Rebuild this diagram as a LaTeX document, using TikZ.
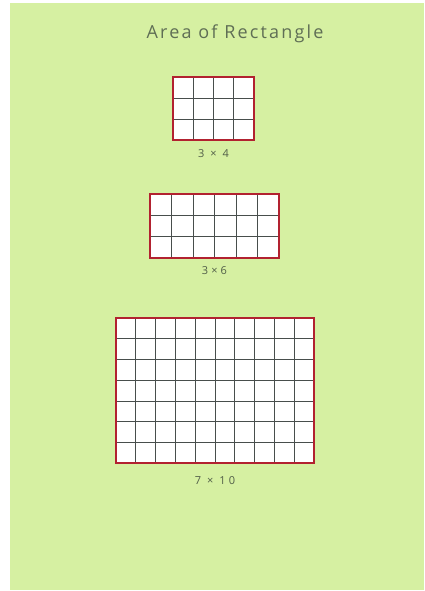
\documentclass[tikz,border=0pt]{standalone}
\usepackage{fontspec}
\usepackage{xcolor}
\usepackage{tikz}
\usetikzlibrary{positioning}
\newfontfamily\handfont[LetterSpace=12]{Open Sans}
\newfontfamily\dimfont[LetterSpace=28]{Open Sans}
\definecolor{paper}{RGB}{214,240,162}
\definecolor{framered}{RGB}{178,34,48}
\definecolor{cellgrey}{RGB}{72,78,76}
\definecolor{ink}{RGB}{95,110,85}

\begin{document}
\begin{tikzpicture}[x=1pt, y=1pt,
  board/.style={rectangle, draw=framered, line width=1.8pt, fill=white, anchor=south west, inner sep=0pt, outer sep=0pt},
  cellline/.style={draw=cellgrey, line width=0.7pt},
  rim/.style={draw=framered, line width=1.8pt},
  dims/.style={font=\dimfont\fontsize{11}{13}\selectfont, text=ink!85!black, inner sep=0pt},
  heading/.style={font=\handfont\fontsize{18}{21}\selectfont, text=ink}]

  \useasboundingbox (0,0) rectangle (424,591);
  \fill[paper] (10,1) rectangle (424,588);

  \node [heading] (title) at (235,557) {Area of Rectangle};

  % 3 rows, 4 columns
  \node [board, minimum width=81pt, minimum height=63pt] (small) at (173,451) {};
  \foreach \c in {1,...,3}
    \draw [cellline] ([xshift=\c*20.25pt]small.south west) -- ([xshift=\c*20.25pt]small.north west);
  \foreach \r in {1,2}
    \draw [cellline] ([yshift=\r*21pt]small.south west) -- ([yshift=\r*21pt]small.south east);
  \draw [rim] (small.south west) rectangle (small.north east);
  \node [dims, below=9pt of small] (smalllbl) {3 × 4};

  % 3 rows, 6 columns
  \node [board, minimum width=129pt, minimum height=64pt] (wide) at (150,333) {};
  \foreach \c in {1,...,5}
    \draw [cellline] ([xshift=\c*21.5pt]wide.south west) -- ([xshift=\c*21.5pt]wide.north west);
  \foreach \r in {1,2}
    \draw [cellline] ([yshift=\r*21.33pt]wide.south west) -- ([yshift=\r*21.33pt]wide.south east);
  \draw [rim] (wide.south west) rectangle (wide.north east);
  \node [dims, below=8pt of wide] (widelbl) {3×6};

  % 7 rows, 10 columns
  \node [board, minimum width=198pt, minimum height=145pt] (big) at (116,128) {};
  \foreach \c in {1,...,9}
    \draw [cellline] ([xshift=\c*19.8pt]big.south west) -- ([xshift=\c*19.8pt]big.north west);
  \foreach \r in {1,...,6}
    \draw [cellline] ([yshift=\r*20.71pt]big.south west) -- ([yshift=\r*20.71pt]big.south east);
  \draw [rim] (big.south west) rectangle (big.north east);
  \node [dims, below=13pt of big] (biglbl) {7 × 10};
\end{tikzpicture}
\end{document}
